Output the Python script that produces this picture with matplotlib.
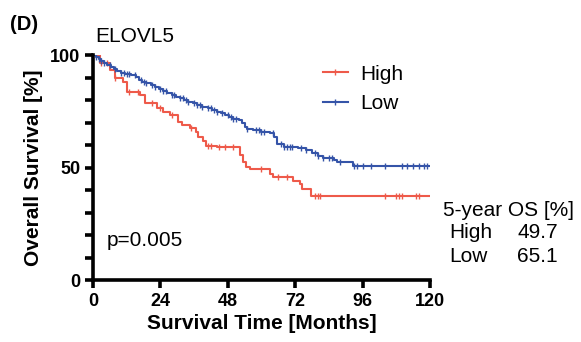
import numpy as np
import matplotlib.pyplot as plt
from matplotlib.lines import Line2D

plt.rcParams['font.family'] = ['Liberation Sans', 'DejaVu Sans']

# Kaplan-Meier step points (months, survival %)
high_t = [0, 2.5, 6.0, 7.8, 10.8, 12.0, 16.7, 18.5, 22.7, 25.0, 27.4, 30.4, 31.8, 34.5,
          36.8, 37.4, 39.2, 40.4, 44.0, 52.3, 53.5, 54.6, 55.8, 63.0, 64.0, 71.3, 73.7, 74.3, 77.8, 120]
high_s = [100, 96.3, 93.3, 89.6, 88.1, 83.7, 82.2, 78.5, 76.3, 74.7, 73.3, 70.4, 68.9, 67.4,
          65.8, 63.5, 62.0, 59.8, 59.0, 55.4, 52.4, 50.1, 49.4, 47.2, 45.7, 44.2, 42.7, 40.5, 37.2, 37.2]
low_t = [0, 1.0, 2.0, 3.0, 4.0, 5.0, 6.5, 7.5, 8.5, 10.0, 11.5, 13.5, 15.5, 16.5, 17.5, 19.0,
         20.5, 22.0, 23.5, 25.0, 26.5, 28.0, 29.5, 31.0, 32.5, 34.0, 35.5, 37.0, 39.0, 41.0, 42.5,
         44.0, 45.5, 47.0, 48.5, 50.0, 52.0, 53.0, 54.0, 55.0, 57.0, 60.0, 63.0, 64.5, 65.5, 68.0,
         73.0, 76.0, 78.0, 80.0, 82.0, 86.0, 87.0, 92.5, 120]
low_s = [100, 99.3, 98.2, 97.3, 96.5, 95.6, 94.7, 93.8, 93.1, 92.2, 91.6, 91.0, 90.3, 89.1, 88.2,
         87.4, 86.6, 85.8, 84.9, 84.0, 83.2, 82.3, 81.5, 80.7, 80.0, 79.2, 78.5, 77.8, 77.1, 76.4,
         75.6, 74.9, 74.1, 73.2, 72.4, 71.7, 71.0, 69.8, 68.2, 67.3, 66.5, 66.0, 65.5, 63.5, 60.7,
         59.2, 58.5, 57.8, 56.3, 55.3, 54.2, 53.2, 52.4, 50.7, 50.7]

# censor marks (months)
high_cens = [1, 3, 5, 8, 13, 16, 21, 24, 28, 35, 41, 42, 45, 47, 50, 60, 66, 69, 79, 80, 81,
             104, 108, 109, 110, 115, 116]
low_cens = [1, 2, 3, 4, 6, 8, 10, 11, 12, 13, 15, 17, 18, 19, 21, 22, 24, 25, 26, 28, 29, 31, 32,
            33, 34, 36, 37, 38, 39, 41, 42, 43, 44, 46, 48, 49, 50, 51, 55, 58, 59, 60, 61, 64, 67,
            68, 69, 70, 71, 74, 76, 79, 80, 82, 84, 85, 88, 93, 94, 96, 99, 104, 110, 112, 114,
            116, 118, 119]

red = '#ee5a4a'
blue = '#3554a8'


def surv_at(t, ts, ss):
    i = np.searchsorted(ts, t, side='right') - 1
    return ss[max(i, 0)]


fig = plt.figure(figsize=(5.81, 3.42), dpi=100)
ax = fig.add_axes([0.160, 0.181, 0.580, 0.658])

for ts, ss, cens, c in [(high_t, high_s, high_cens, red), (low_t, low_s, low_cens, blue)]:
    ax.step(ts, ss, where='post', color=c, lw=1.5)
    cy = [surv_at(t, np.array(ts), ss) for t in cens]
    ax.plot(cens, cy, ls='none', marker='|', color=c, ms=4.5, mew=1.0)

ax.set_xlim(0, 120)
ax.set_ylim(0, 100)
ax.set_xticks([0, 24, 48, 72, 96, 120])
ax.set_yticks([0, 50, 100])
ax.set_yticks(np.arange(0, 101, 10), minor=True)
ax.spines['top'].set_visible(False)
ax.spines['right'].set_visible(False)
for s in ['left', 'bottom']:
    ax.spines[s].set_linewidth(2.6)
ax.tick_params(which='major', length=6, width=2.6, labelsize=13, pad=3)
ax.tick_params(which='minor', length=6, width=2.6)
for lab in ax.get_xticklabels() + ax.get_yticklabels():
    lab.set_fontweight('bold')

ax.set_xlabel('Survival Time [Months]', fontsize=15, fontweight='bold', labelpad=3)
ax.set_ylabel('Overall Survival [%]', fontsize=15, fontweight='bold', labelpad=5)

fig.text(10 / 581, 1 - 24 / 342, '(D)', fontsize=14.5, fontweight='bold', va='center')
fig.text(95 / 581, 1 - 37 / 342, 'ELOVL5', fontsize=15, va='center')

handles = [Line2D([0], [0], color=red, lw=1.5, marker='|', ms=5),
           Line2D([0], [0], color=blue, lw=1.5, marker='|', ms=5)]
ax.legend(handles, ['High', 'Low'], loc='upper left', bbox_to_anchor=(0.682, 0.958),
          frameon=False, fontsize=15, handlelength=1.2, handletextpad=0.6,
          labelspacing=0.5, borderaxespad=0, borderpad=0)

fig.text(107 / 581, 1 - 240 / 342, 'p=0.005', fontsize=15, va='center')
fig.text(443 / 581, 1 - 211 / 342, '5-year OS [%]', fontsize=15, va='center')
fig.text(449 / 581, 1 - 233 / 342, 'High', fontsize=15, va='center')
fig.text(517 / 581, 1 - 233 / 342, '49.7', fontsize=15, va='center')
fig.text(449 / 581, 1 - 257 / 342, 'Low', fontsize=15, va='center')
fig.text(517 / 581, 1 - 257 / 342, '65.1', fontsize=15, va='center')

fig.savefig('out.png', dpi=100)
